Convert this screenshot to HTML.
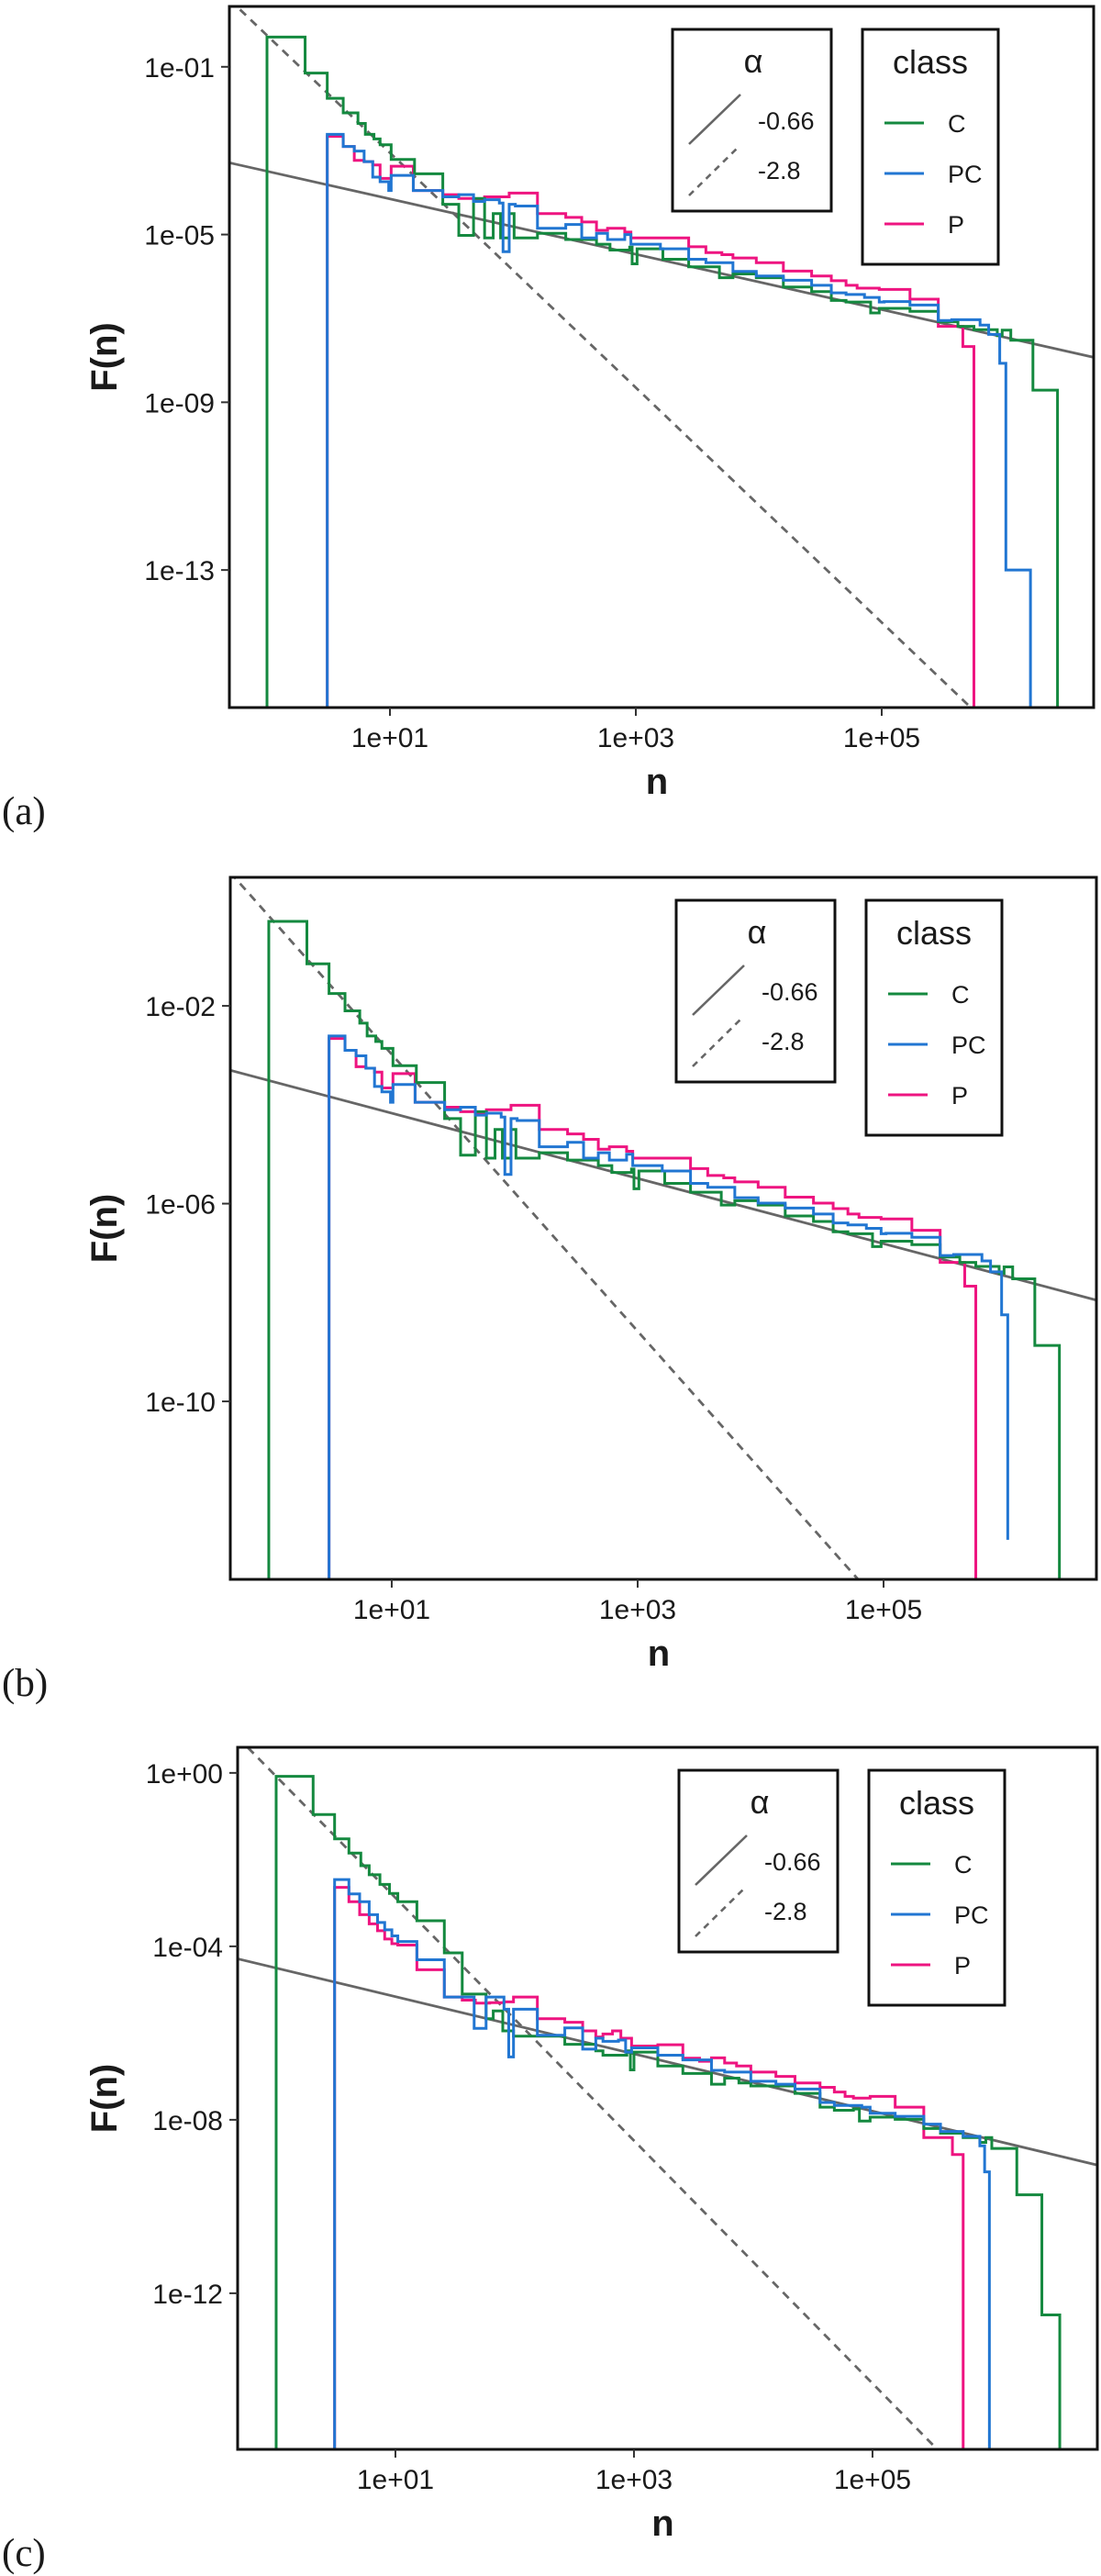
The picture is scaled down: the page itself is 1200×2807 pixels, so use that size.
<!DOCTYPE html>
<html><head><meta charset="utf-8"><title>F(n) distributions</title>
<style>
html,body{margin:0;padding:0;background:#fff;}
svg{display:block;}
text{font-family:"Liberation Sans",sans-serif;fill:#1a1a1a;}
</style></head>
<body>
<svg id="chart" xmlns="http://www.w3.org/2000/svg" width="1200" height="2807" viewBox="0 0 1200 2807"></svg>
<script>
// ---------- data (log10 n edges, log10 F(n) levels) ----------
const xTickVals = [1, 3, 5];
const xTickLabels = ['1e+01', '1e+03', '1e+05'];
const classNames = ['C', 'PC', 'P'];
const alphaLabels = ['-0.66', '-2.8'];
const alphaSlopes = [-0.66, -2.8];
const solidIntercepts = [-3.49, -3.51, -4.5];
const dashedIntercepts = [-0.25, -0.18, -0.08];
const yTicksA = [-1, -5, -9, -13];
const yTickLabelsA = ['1e-01', '1e-05', '1e-09', '1e-13'];
const yTicksB = [-2, -6, -10];
const yTickLabelsB = ['1e-02', '1e-06', '1e-10'];
const yTicksC = [0, -4, -8, -12];
const yTickLabelsC = ['1e+00', '1e-04', '1e-08', '1e-12'];

// panels (a),(b): shared body
const cEdges = [0.00,0.31,0.49,0.62,0.74,0.80,0.87,0.92,1.01,1.20,1.43,1.56,1.68,1.77,1.84,1.90,1.97,2.01,2.20,2.43,2.68,2.79,2.95,2.97,3.01,3.22,3.43,3.68,3.79,3.98,4.20,4.43,4.59,4.71,4.91,4.98,5.23,5.46,5.62,5.75,5.94,5.98,6.05,6.23];
const cVals = [-0.29,-1.15,-1.75,-2.10,-2.35,-2.61,-2.72,-2.86,-3.21,-3.55,-4.28,-5.02,-4.14,-5.08,-4.50,-5.08,-4.50,-5.08,-4.97,-5.12,-5.23,-5.37,-5.30,-5.70,-5.34,-5.59,-5.77,-6.03,-5.94,-6.03,-6.25,-6.36,-6.57,-6.61,-6.87,-6.76,-6.83,-7.08,-7.19,-7.27,-7.41,-7.28,-7.52];
const pcEdges = [0.49,0.62,0.71,0.79,0.86,0.92,0.99,1.01,1.19,1.43,1.56,1.68,1.77,1.89,1.92,1.97,2.02,2.20,2.43,2.56,2.68,2.77,2.91,2.96,3.20,3.43,3.57,3.79,3.98,4.20,4.43,4.59,4.71,4.86,4.98,5.02,5.23,5.46,5.57,5.80,5.87,5.96];
const pcVals = [-2.61,-2.90,-3.01,-3.26,-3.63,-3.74,-3.95,-3.59,-3.95,-4.10,-4.05,-4.21,-4.17,-4.25,-5.41,-4.28,-4.32,-4.85,-4.76,-5.08,-4.97,-5.12,-5.00,-5.23,-5.34,-5.59,-5.67,-5.88,-5.99,-6.09,-6.21,-6.39,-6.43,-6.50,-6.61,-6.60,-6.68,-7.05,-7.03,-7.16,-7.38];
const pEdges = [0.49,0.62,0.71,0.79,0.86,0.92,1.01,1.19,1.43,1.56,1.68,1.77,1.89,1.97,2.20,2.43,2.56,2.68,2.77,2.91,2.96,3.20,3.43,3.57,3.70,3.79,3.98,4.20,4.43,4.59,4.71,4.80,4.98,5.23,5.46,5.66,5.75];
const pVals = [-2.66,-2.90,-3.23,-3.26,-3.34,-3.66,-3.37,-3.95,-4.05,-4.14,-4.17,-4.10,-4.10,-4.01,-4.50,-4.59,-4.70,-4.90,-4.85,-4.94,-5.08,-5.08,-5.29,-5.43,-5.48,-5.56,-5.67,-5.87,-5.99,-6.10,-6.21,-6.28,-6.31,-6.54,-7.19,-7.67];
// tails
const cTailEdgesA = [6.23, 6.43];
const cTailValsA = [-8.71];
const pcTailEdgesA = [5.96, 6.01, 6.21];
const pcTailValsA = [-8.07, -13.0];
const cTailEdgesB = [6.23, 6.43];
const cTailValsB = [-8.87];
const pcTailEdgesB = [5.96, 6.01];
const pcTailValsB = [-8.25];
const pcTailStopB = -12.8;

// panel (c)
const cEdgesC = [0.00,0.31,0.49,0.61,0.71,0.78,0.87,0.95,1.02,1.18,1.41,1.56,1.76,1.82,1.90,1.99,2.42,2.68,2.74,2.94,2.97,3.00,3.20,3.41,3.65,3.76,3.88,3.98,4.35,4.56,4.68,4.84,4.89,4.98,5.19,5.43,5.57,5.76,5.90,5.95,6.00,6.21];
const cValsC = [-0.08,-0.96,-1.52,-1.85,-2.14,-2.35,-2.57,-2.78,-2.97,-3.41,-4.15,-5.10,-5.67,-5.49,-5.95,-6.07,-6.26,-6.41,-6.51,-6.41,-6.85,-6.44,-6.76,-6.93,-7.18,-7.04,-7.15,-7.22,-7.39,-7.71,-7.78,-7.75,-8.03,-7.94,-7.99,-8.20,-8.31,-8.41,-8.52,-8.41,-8.66];
const cTailEdgesC = [6.21, 6.42, 6.57];
const cTailValsC = [-9.73, -12.5];
const pcEdgesC = [0.49,0.61,0.70,0.78,0.85,0.91,0.97,1.02,1.18,1.41,1.66,1.76,1.91,1.95,1.99,2.19,2.42,2.57,2.68,2.74,2.87,2.93,2.98,3.20,3.41,3.65,3.76,3.98,4.19,4.35,4.56,4.68,4.91,4.98,5.19,5.43,5.57,5.76,5.90,5.94];
const pcValsC = [-2.46,-2.79,-2.97,-3.27,-3.45,-3.62,-3.76,-3.89,-4.31,-5.17,-5.89,-5.17,-5.45,-6.55,-5.45,-6.05,-5.88,-6.37,-6.12,-6.19,-6.16,-6.44,-6.34,-6.51,-6.62,-6.86,-6.90,-7.11,-7.18,-7.29,-7.60,-7.67,-7.71,-7.85,-7.92,-8.10,-8.27,-8.38,-8.60];
const pcTailEdgesC = [5.94, 5.98];
const pcTailValsC = [-9.2];
const pEdgesC = [0.49,0.61,0.70,0.78,0.85,0.91,0.97,1.02,1.18,1.41,1.56,1.67,1.79,1.91,1.99,2.19,2.42,2.57,2.68,2.74,2.82,2.89,2.98,3.20,3.41,3.55,3.65,3.76,3.86,3.98,4.19,4.35,4.56,4.68,4.77,4.84,4.98,5.19,5.43,5.67,5.76];
const pValsC = [-2.64,-2.97,-3.27,-3.48,-3.64,-3.83,-3.94,-3.97,-4.54,-5.17,-5.24,-5.31,-5.30,-5.28,-5.17,-5.67,-5.75,-5.95,-6.09,-6.02,-5.95,-6.12,-6.30,-6.27,-6.58,-6.65,-6.57,-6.69,-6.76,-6.90,-7.00,-7.15,-7.25,-7.36,-7.46,-7.50,-7.46,-7.71,-8.41,-8.80];

const COLORS = {C:'#14893f', PC:'#2176d2', P:'#ee1480'};
const NS = 'http://www.w3.org/2000/svg';
const svg = document.getElementById('chart');

function mk(tag, attrs, parent) {
  const e = document.createElementNS(NS, tag);
  for (const k in attrs) e.setAttribute(k, attrs[k]);
  (parent || svg).appendChild(e);
  return e;
}

const panels = [
  {id:'a', box:{l:250,t:7,r:1192,b:771}, x:[-0.306,6.724], y:[0.44,-16.28], yt:yTicksA, ytl:yTickLabelsA, lx:733,
   series:[
     {name:'P', edges:pEdges, vals:pVals, stop:null},
     {name:'C', edges:cEdges.concat(cTailEdgesA.slice(1)), vals:cVals.concat(cTailValsA), stop:null},
     {name:'PC', edges:pcEdges.concat(pcTailEdgesA.slice(1)), vals:pcVals.concat(pcTailValsA), stop:null}]},
  {id:'b', box:{l:251,t:956,r:1195,b:1721}, x:[-0.313,6.731], y:[0.60,-13.60], yt:yTicksB, ytl:yTickLabelsB, lx:737,
   series:[
     {name:'P', edges:pEdges, vals:pVals, stop:null},
     {name:'C', edges:cEdges.concat(cTailEdgesB.slice(1)), vals:cVals.concat(cTailValsB), stop:null},
     {name:'PC', edges:pcEdges.concat(pcTailEdgesB.slice(1)), vals:pcVals.concat(pcTailValsB), stop:pcTailStopB}]},
  {id:'c', box:{l:259,t:1904,r:1196,b:2669}, x:[-0.323,6.885], y:[0.59,-15.60], yt:yTicksC, ytl:yTickLabelsC, lx:740,
   series:[
     {name:'P', edges:pEdgesC, vals:pValsC, stop:null},
     {name:'C', edges:cEdgesC.concat(cTailEdgesC.slice(1)), vals:cValsC.concat(cTailValsC), stop:null},
     {name:'PC', edges:pcEdgesC.concat(pcTailEdgesC.slice(1)), vals:pcValsC.concat(pcTailValsC), stop:null}]}
];

panels.forEach(function(p, pi) {
  const B = p.box;
  const X = v => B.l + (v - p.x[0]) / (p.x[1] - p.x[0]) * (B.r - B.l);
  const Y = v => B.t + (p.y[0] - v) / (p.y[0] - p.y[1]) * (B.b - B.t);
  const g = mk('g', {});
  
  

  const cp = mk('clipPath', {id:'clip-' + p.id}, g);
  mk('rect', {x:B.l, y:B.t, width:B.r - B.l, height:B.b - B.t}, cp);

  // reference lines
  const ints = [solidIntercepts[pi], dashedIntercepts[pi]];
  alphaSlopes.forEach(function(s, k) {
    const x0 = p.x[0], x1 = p.x[1];
    const ln = mk('line', {x1:X(x0), y1:Y(ints[k] + s * x0), x2:X(x1), y2:Y(ints[k] + s * x1),
      stroke:'#666', 'stroke-width':2.8, 'stroke-dasharray': k ? '9 7' : 'none', 'clip-path':'url(#clip-' + p.id + ')'}, g);
    
    
  });

  // step series
  p.series.forEach(function(s) {
    let d = 'M' + X(s.edges[0]) + ' ' + B.b;
    for (let i = 0; i < s.vals.length; i++) {
      d += ' L' + X(s.edges[i]) + ' ' + Y(s.vals[i]) + ' L' + X(s.edges[i + 1]) + ' ' + Y(s.vals[i]);
    }
    const endY = s.stop === null ? B.b : Y(s.stop);
    d += ' L' + X(s.edges[s.edges.length - 1]) + ' ' + endY;
    const path = mk('path', {d:d, fill:'none', stroke:COLORS[s.name], 'stroke-width':3, 'stroke-linejoin':'miter',
      'clip-path':'url(#clip-' + p.id + ')'}, g);
    
    
  });

  // frame
  const fr = mk('rect', {x:B.l, y:B.t, width:B.r - B.l, height:B.b - B.t, fill:'none', stroke:'#111', 'stroke-width':3}, g);
  
  

  // y ticks
  p.yt.forEach(function(v, i) {
    const y = Y(v);
    mk('line', {x1:B.l - 9, y1:y, x2:B.l, y2:y, stroke:'#333', 'stroke-width':2}, g);
    const t = mk('text', {x:B.l - 16, y:y + 11, 'font-size':30, 'text-anchor':'end'}, g);
    t.textContent = p.ytl[i];
    
    
  });
  // x ticks
  xTickVals.forEach(function(v, i) {
    const x = X(v);
    mk('line', {x1:x, y1:B.b, x2:x, y2:B.b + 9, stroke:'#333', 'stroke-width':2}, g);
    const t = mk('text', {x:x, y:B.b + 43, 'font-size':30, 'text-anchor':'middle'}, g);
    t.textContent = xTickLabels[i];
    
    
  });
  // axis titles
  const xt = mk('text', {x:(B.l + B.r) / 2 - 5, y:B.b + 94, 'font-size':40, 'font-weight':'bold', 'text-anchor':'middle'}, g);
  xt.textContent = 'n';
  
  
  const cy = (B.t + B.b) / 2;
  const yt = mk('text', {x:0, y:0, 'font-size':40, 'font-weight':'bold', 'text-anchor':'middle',
    transform:'translate(127,' + cy + ') rotate(-90)'}, g);
  yt.textContent = 'F(n)';
  
  
  const pl = mk('text', {x:2, y:B.b + 127, 'font-size':43, style:'font-family:"Liberation Serif",serif'}, g);
  pl.textContent = '(' + p.id + ')';
  
  

  // legends
  const lx = p.lx, t0 = B.t;
  const la = mk('g', {}, g);
  
  
  mk('rect', {x:lx, y:t0 + 25, width:173, height:198, fill:'#fff', stroke:'#111', 'stroke-width':3}, la);
  const at = mk('text', {x:lx + 88, y:t0 + 72, 'font-size':36, 'text-anchor':'middle'}, la);
  at.textContent = 'α';
  mk('line', {x1:lx + 18, y1:t0 + 150, x2:lx + 74, y2:t0 + 96, stroke:'#666', 'stroke-width':2.6}, la);
  mk('line', {x1:lx + 18, y1:t0 + 206, x2:lx + 72, y2:t0 + 153, stroke:'#666', 'stroke-width':2.6, 'stroke-dasharray':'7 6'}, la);
  alphaLabels.forEach(function(s, k) {
    const tt = mk('text', {x:lx + 93, y:t0 + 134 + k * 54, 'font-size':27}, la);
    tt.textContent = s;
    
    
  });
  const lc = mk('g', {}, g);
  
  
  mk('rect', {x:lx + 207, y:t0 + 25, width:148, height:256, fill:'#fff', stroke:'#111', 'stroke-width':3}, lc);
  const ct = mk('text', {x:lx + 281, y:t0 + 73, 'font-size':36, 'text-anchor':'middle'}, lc);
  ct.textContent = 'class';
  classNames.forEach(function(s, k) {
    const yy = t0 + 127 + k * 55;
    mk('line', {x1:lx + 231, y1:yy, x2:lx + 274, y2:yy, stroke:COLORS[s], 'stroke-width':3}, lc);
    const tt = mk('text', {x:lx + 300, y:yy + 10, 'font-size':27}, lc);
    tt.textContent = s;
    
    
  });
});
</script>
</body></html>
